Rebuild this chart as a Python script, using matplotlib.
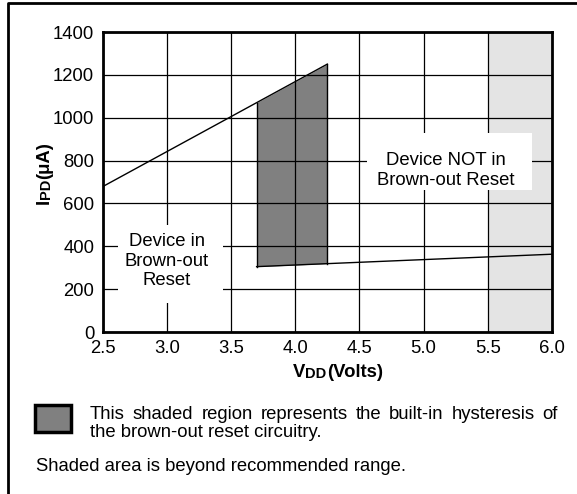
import matplotlib
matplotlib.use("Agg")
import matplotlib.pyplot as plt
import matplotlib.patches as mpatches
from matplotlib.lines import Line2D

plt.rcParams['font.family'] = ['Liberation Sans', 'DejaVu Sans']

# Brown-out reset trip points: IPD vs VDD
vdd_ticks = [2.5, 3.0, 3.5, 4.0, 4.5, 5.0, 5.5, 6.0]
ipd_ticks = [0, 200, 400, 600, 800, 1000, 1200, 1400]

upper_v = [2.5, 4.25]
upper_i = [678, 1250]
lower_v = [3.7, 4.25, 6.0]
lower_i = [305, 319, 363]

# hysteresis band between the two trip lines
hyst_v = [3.7, 4.25]
hyst_top = [1070, 1250]
hyst_bot = [305, 319]

out_of_range = [5.5, 6.0]

W, H = 577, 494
FS = 13.3
fig = plt.figure(figsize=(W / 100, H / 100), dpi=100)
ax = fig.add_axes([102.5 / W, 1 - 332 / H, (552 - 102.5) / W, 300 / H])

ax.axvspan(out_of_range[0], out_of_range[1], color='#e4e4e4', zorder=0.5, lw=0)
ax.fill_between(hyst_v, hyst_bot, hyst_top, color='#808080', zorder=1, lw=0)
for k in range(2):
    ax.plot([hyst_v[k], hyst_v[k]], [hyst_bot[k], hyst_top[k]], color='black', lw=1, zorder=3)
ax.plot(upper_v, upper_i, color='black', lw=1, zorder=3)
ax.plot(lower_v, lower_i, color='black', lw=1, zorder=3)

ax.set_xlim(2.5, 6.0)
ax.set_ylim(0, 1400)
ax.set_xticks(vdd_ticks)
ax.set_xticklabels([f'{v:.1f}' for v in vdd_ticks])
ax.set_yticks(ipd_ticks)
ax.set_axisbelow(False)
ax.grid(True, color='black', lw=0.9, zorder=2)
ax.tick_params(length=0, labelsize=FS, colors='black')
ax.tick_params(axis='x', pad=6)
ax.tick_params(axis='y', pad=6)
for s in ax.spines.values():
    s.set_linewidth(2)
    s.set_zorder(5)

# white label boxes that break the grid
ax.add_patch(mpatches.Rectangle((2.62, 135), 0.82, 364, facecolor='white', lw=0, zorder=2.8))
ax.add_patch(mpatches.Rectangle((4.56, 663), 1.285, 266, facecolor='white', lw=0, zorder=2.8))
ax.text(3.0, 331, 'Device in\nBrown-out\nReset', ha='center', va='center',
        fontsize=FS, linespacing=1.2, zorder=4)
ax.text(5.175, 755, 'Device NOT in\nBrown-out Reset', ha='center', va='center',
        fontsize=FS, linespacing=1.2, zorder=4)


# axis titles with small-cap subscripts, each piece placed after the previous one
def chain(pieces, x, y, vertical=False):
    last = None
    for txt, size in pieces:
        kw = dict(fontsize=size, weight='bold')
        if vertical:
            kw.update(rotation=90, ha='right', va='bottom')
        else:
            kw.update(ha='left', va='baseline' if last is None else 'bottom')
        if last is None:
            last = fig.text(x, y, txt, **kw)
        else:
            xy = (1, 1) if vertical else (1, 0)
            last = ax.annotate(txt, xy=xy, xycoords=last, annotation_clip=False, **kw)


chain([('V', FS), ('DD', 10.5), ('(Volts)', FS)], 293 / W, 1 - 377 / H)
chain([('I', FS), ('PD', 10.5), ('(\u03bcA)', FS)], 53 / W, 1 - 204 / H, vertical=True)

# legend swatch and notes
fig.patches.append(mpatches.Rectangle((35 / W, 1 - 432 / H), 36 / W, 27 / H,
                                      facecolor='#808080', edgecolor='black', lw=2.5,
                                      transform=fig.transFigure, figure=fig))

line1 = 'This shaded region represents the built-in hysteresis of'.split()
renderer = fig.canvas.get_renderer()
words = [fig.text(0, 1 - 419 / H, w, fontsize=FS, ha='left', va='baseline') for w in line1]
widths = [t.get_window_extent(renderer).width for t in words]
x0, x1 = 90, 558
gap = (x1 - x0 - sum(widths)) / (len(words) - 1)
xpos = x0
for t, wd in zip(words, widths):
    t.set_x(xpos / W)
    xpos += wd + gap
fig.text(90 / W, 1 - 437 / H, 'the brown-out reset circuitry.', fontsize=FS, va='baseline')
fig.text(36 / W, 1 - 471 / H, 'Shaded area is beyond recommended range.', fontsize=FS, va='baseline')

# outer frame
fig.lines.append(Line2D([8 / W, 8 / W, 1], [0, 1 - 3 / H, 1 - 3 / H], color='black', lw=2,
                        transform=fig.transFigure, figure=fig))

fig.savefig('out.png', dpi=100)
